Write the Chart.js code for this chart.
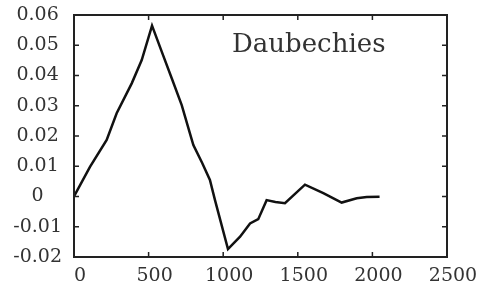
<!DOCTYPE html>
<html>
<head>
<meta charset="utf-8">
<script src="https://cdn.jsdelivr.net/npm/chart.js@4/dist/chart.umd.min.js"></script>
<style>
  html, body { margin: 0; padding: 0; background: #fff; }
  #wrap { width: 477px; height: 289px; }
</style>
</head>
<body>
<div id="wrap"><canvas id="c"></canvas></div>
<script>
// ── Data ─────────────────────────────────────────────────────────────────────
const sampleX = [0, 107, 219, 286, 387, 454, 523, 588, 655, 722, 777, 800, 860,
  911, 945, 1032, 1113, 1180, 1235, 1291, 1350, 1414, 1548, 1671, 1794, 1895,
  1962, 2048];
const waveletY = [0, 0.0098, 0.0187, 0.0275, 0.0374, 0.0451, 0.0565, 0.0479,
  0.0391, 0.0302, 0.0209, 0.0170, 0.0110, 0.0055, -0.0012, -0.0174, -0.0133,
  -0.0089, -0.0075, -0.0012, -0.0018, -0.0022, 0.0039, 0.0011, -0.0020,
  -0.0006, -0.0002, -0.0001];
const xTicks = [0, 500, 1000, 1500, 2000, 2500];
const yTicks = [-0.02, -0.01, 0, 0.01, 0.02, 0.03, 0.04, 0.05, 0.06];
const seriesLabel = 'Daubechies';

const INK = '#222';
const FONT = { family: "'DejaVu Serif', serif", size: 19 };

// ── Frame + inward ticks on all four sides, gnuplot style ───────────────────
const framePlugin = {
  id: 'frame',
  afterDraw(chart) {
    const { ctx, chartArea: a, scales } = chart;
    const len = 5;
    ctx.save();
    ctx.strokeStyle = INK;
    ctx.lineWidth = 1.5;
    ctx.beginPath();
    scales.x.ticks.forEach((t, i) => {
      const px = scales.x.getPixelForTick(i);
      ctx.moveTo(px, a.bottom); ctx.lineTo(px, a.bottom - len);
      ctx.moveTo(px, a.top); ctx.lineTo(px, a.top + len);
    });
    scales.y.ticks.forEach((t, i) => {
      const py = scales.y.getPixelForTick(i);
      ctx.moveTo(a.left, py); ctx.lineTo(a.left + len, py);
      ctx.moveTo(a.right, py); ctx.lineTo(a.right - len, py);
    });
    ctx.stroke();
    ctx.lineWidth = 2;
    ctx.strokeRect(a.left, a.top, a.right - a.left, a.bottom - a.top);

    // key label
    ctx.fillStyle = '#333';
    ctx.font = "26px 'DejaVu Serif', serif";
    ctx.textBaseline = 'alphabetic';
    ctx.fillText(seriesLabel, 232, 52);
    ctx.restore();
  },
};

new Chart(document.getElementById('c'), {
  type: 'line',
  data: {
    datasets: [{
      label: seriesLabel,
      data: sampleX.map((x, i) => ({ x, y: waveletY[i] })),
      borderColor: '#111',
      borderWidth: 2.5,
      pointRadius: 0,
      tension: 0,
      fill: false,
    }],
  },
  options: {
    responsive: true,
    maintainAspectRatio: false,
    animation: false,
    events: [],
    layout: { padding: { top: 15, right: 30, left: 0, bottom: 0 } },
    plugins: { legend: { display: false }, tooltip: { enabled: false } },
    scales: {
      x: {
        type: 'linear',
        min: 0,
        max: 2500,
        afterBuildTicks: s => { s.ticks = xTicks.map(value => ({ value })); },
        afterFit: s => { s.height = 32; s.paddingLeft = 0; s.paddingRight = 0; },
        grid: { display: false, drawTicks: false },
        border: { display: false },
        ticks: {
          color: '#333',
          font: FONT,
          padding: 8,
          labelOffset: 6,
          maxRotation: 0,
          callback: v => String(v),
        },
      },
      y: {
        min: -0.02,
        max: 0.06,
        afterBuildTicks: s => { s.ticks = yTicks.map(value => ({ value })); },
        afterFit: s => { s.width = 74; s.paddingTop = 0; s.paddingBottom = 0; },
        grid: { display: false, drawTicks: false },
        border: { display: false },
        ticks: {
          color: '#333',
          font: FONT,
          padding: 12,
          crossAlign: 'center',
          callback: v => (Math.abs(v) < 1e-9 ? '0' : v.toFixed(2)),
        },
      },
    },
  },
  plugins: [framePlugin],
});
</script>
</body>
</html>
